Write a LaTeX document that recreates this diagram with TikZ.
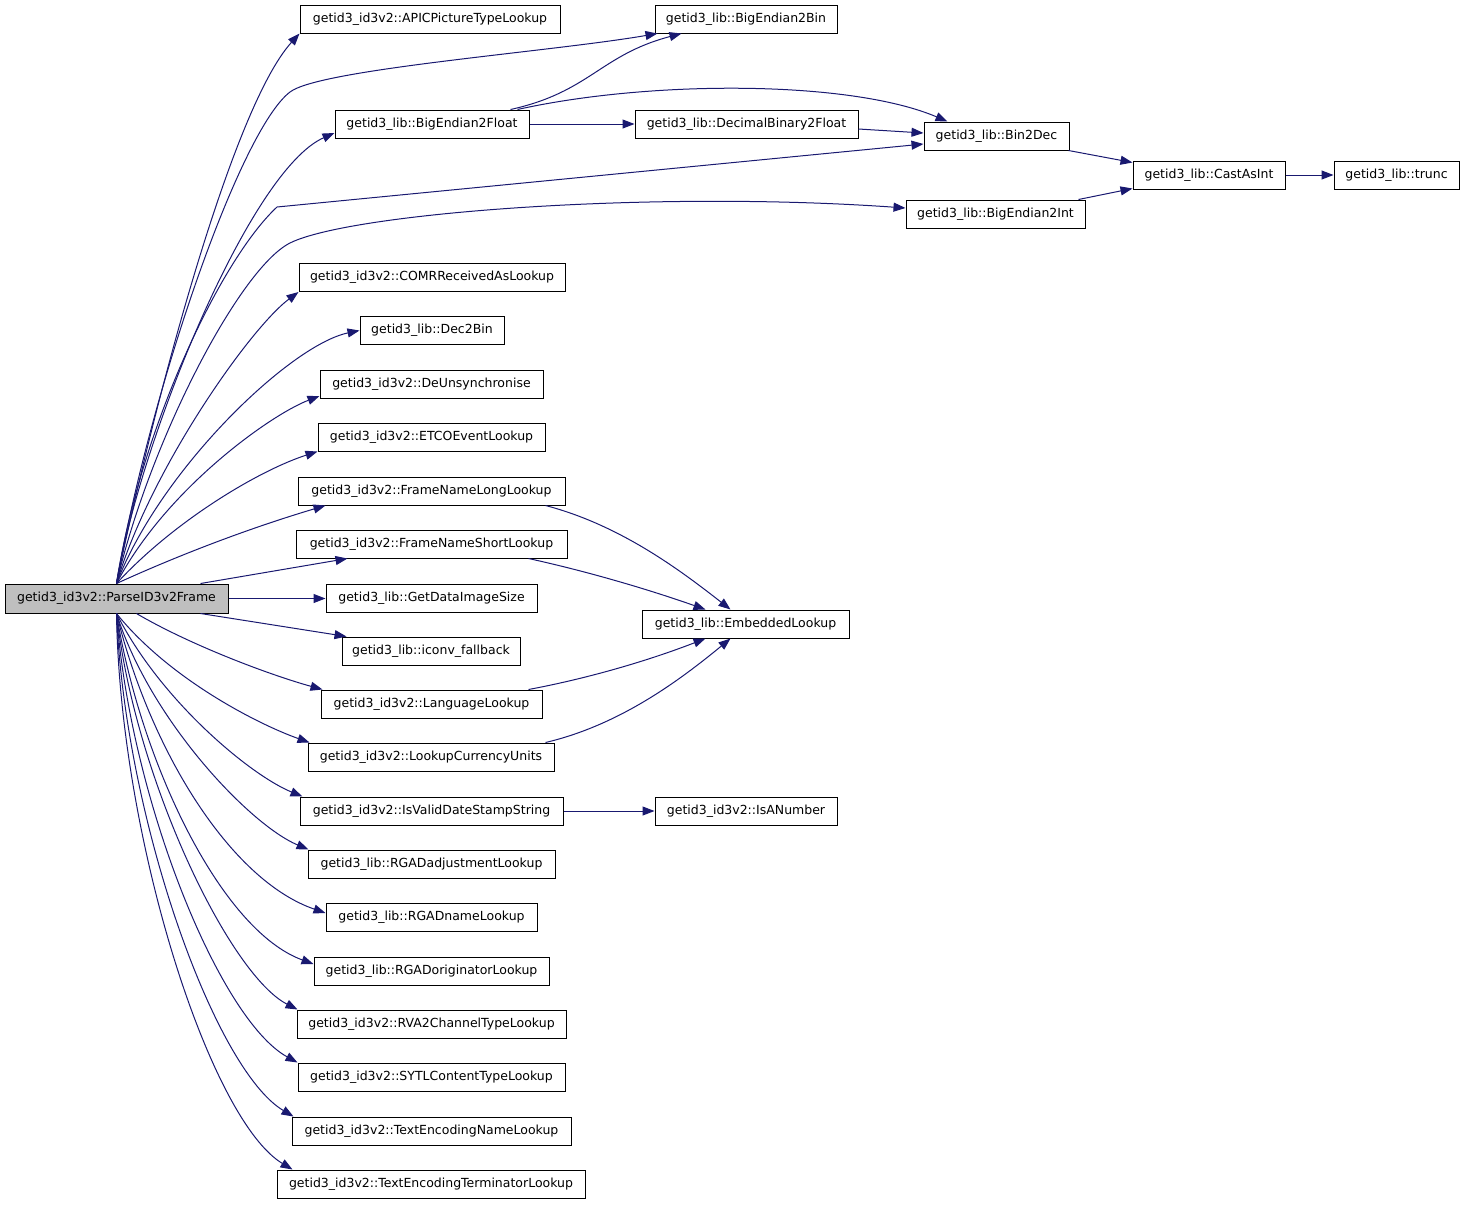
\documentclass[tikz,border=0pt]{standalone}
\usepackage{fontspec}
\setmainfont{DejaVu Sans}
\usetikzlibrary{arrows.meta,calc}
\definecolor{edgecol}{RGB}{25,25,112}
\definecolor{maingray}{RGB}{191,191,191}
\tikzset{
  fn/.style={draw=black, line width=1pt, fill=white, rectangle, inner sep=0pt, minimum height=28pt,
    font=\fontsize{12.5}{14}\selectfont, text=black},
  mainfn/.style={fn, fill=maingray, minimum height=29pt},
  call/.style={draw=edgecol, line width=1pt, -{Triangle[length=12pt,width=9pt]}},
}
\begin{document}
\begin{tikzpicture}[x=1pt,y=-1pt]
\useasboundingbox (0,0) rectangle (1464,1205);
% nodes
\node[mainfn, minimum width=223pt] (main) at (116.5,598.5) {getid3\_id3v2::ParseID3v2Frame};
\node[fn, minimum width=260pt] (apic) at (430,19) {getid3\_id3v2::APICPictureTypeLookup};
\node[fn, minimum width=182pt] (be2bin) at (746,19) {getid3\_lib::BigEndian2Bin};
\node[fn, minimum width=194pt] (be2float) at (432,124) {getid3\_lib::BigEndian2Float};
\node[fn, minimum width=223pt] (decbin) at (746.5,124) {getid3\_lib::DecimalBinary2Float};
\node[fn, minimum width=145pt] (bin2dec) at (996.5,136) {getid3\_lib::Bin2Dec};
\node[fn, minimum width=152pt] (castint) at (1209,175) {getid3\_lib::CastAsInt};
\node[fn, minimum width=125pt] (trunc) at (1396.5,175) {getid3\_lib::trunc};
\node[fn, minimum width=179pt] (be2int) at (995.5,214) {getid3\_lib::BigEndian2Int};
\node[fn, minimum width=266pt] (comr) at (432,277.5) {getid3\_id3v2::COMRReceivedAsLookup};
\node[fn, minimum width=144pt] (dec2bin) at (432,330.5) {getid3\_lib::Dec2Bin};
\node[fn, minimum width=223pt] (deunsync) at (431.5,384) {getid3\_id3v2::DeUnsynchronise};
\node[fn, minimum width=227pt] (etco) at (431.5,437) {getid3\_id3v2::ETCOEventLookup};
\node[fn, minimum width=267pt] (fnlong) at (431.5,491) {getid3\_id3v2::FrameNameLongLookup};
\node[fn, minimum width=271pt] (fnshort) at (431.5,544) {getid3\_id3v2::FrameNameShortLookup};
\node[fn, minimum width=211pt] (gdis) at (431.5,598.5) {getid3\_lib::GetDataImageSize};
\node[fn, minimum width=207pt] (embed) at (745.5,624) {getid3\_lib::EmbeddedLookup};
\node[fn, minimum width=178pt] (iconv) at (431,651) {getid3\_lib::iconv\_fallback};
\node[fn, minimum width=221pt] (lang) at (431.5,704) {getid3\_id3v2::LanguageLookup};
\node[fn, minimum width=246pt] (lcu) at (431,757) {getid3\_id3v2::LookupCurrencyUnits};
\node[fn, minimum width=263pt] (isvalid) at (431.5,811) {getid3\_id3v2::IsValidDateStampString};
\node[fn, minimum width=182pt] (isanum) at (746,811) {getid3\_id3v2::IsANumber};
\node[fn, minimum width=247pt] (rgadadj) at (431.5,864) {getid3\_lib::RGADadjustmentLookup};
\node[fn, minimum width=211pt] (rgadname) at (431.5,917) {getid3\_lib::RGADnameLookup};
\node[fn, minimum width=235pt] (rgadorig) at (431.5,971) {getid3\_lib::RGADoriginatorLookup};
\node[fn, minimum width=269pt] (rva2) at (431.5,1024) {getid3\_id3v2::RVA2ChannelTypeLookup};
\node[fn, minimum width=267pt] (sytl) at (431.5,1077) {getid3\_id3v2::SYTLContentTypeLookup};
\node[fn, minimum width=279pt] (tename) at (431.5,1131) {getid3\_id3v2::TextEncodingNameLookup};
\node[fn, minimum width=308pt] (teterm) at (431,1184) {getid3\_id3v2::TextEncodingTerminatorLookup};
\coordinate (kbin) at (290,92);
\coordinate (kdec) at (277,207);
\coordinate (kint) at (290,243);
% edges upward
\draw[call] (main.north) .. controls (150,420) and (230,110) .. (apic.south west);
\draw[call] (main.north) .. controls (150,390) and (240,130) .. (kbin) .. controls (320,69) and (550,52) .. ($(be2bin.south west)+(3,0)$);
\draw[call] (main.north) .. controls (140,440) and (250,170) .. ($(be2float.west)+(0,9)$);
\draw[call] (main.north) .. controls (140,430) and (220,260) .. (kdec) -- ($(bin2dec.west)+(0,8)$);
\draw[call] (main.north) .. controls (150,440) and (240,268) .. (kint) .. controls (350,213) and (650,190) .. ($(be2int.west)+(0,-6)$);
\draw[call] (main.north) .. controls (150,470) and (250,328) .. (comr.south west);
\draw[call] (main.north) .. controls (160,470) and (290,345) .. (dec2bin.west);
\draw[call] (main.north) .. controls (165,490) and (270,415) .. ($(deunsync.west)+(0,12)$);
\draw[call] (main.north) .. controls (175,520) and (260,470) .. (etco.south west);
\draw[call] (main.north) .. controls (190,550) and (260,525) .. ($(fnlong.south west)+(28,0)$);
\draw[call] ($(main.north east)+(-28,0)$) -- ($(fnshort.south west)+(52,0)$);
\draw[call] (main.east) -- (gdis.west);
% edges downward
\draw[call] ($(main.south east)+(-28,0)$) -- ($(iconv.north west)+(5,0)$);
\draw[call] ($(main.south)+(20,0)$) .. controls (190,645) and (270,675) .. ($(lang.north west)+(2,0)$);
\draw[call] (main.south) .. controls (170,680) and (260,725) .. ($(lcu.north west)+(2,0)$);
\draw[call] (main.south) .. controls (160,700) and (250,775) .. ($(isvalid.north west)+(3,0)$);
\draw[call] (main.south) .. controls (150,720) and (250,825) .. ($(rgadadj.north west)+(1,0)$);
\draw[call] (main.south) .. controls (150,750) and (230,880) .. ($(rgadname.west)+(0,-4)$);
\draw[call] (main.south) .. controls (140,760) and (220,930) .. ($(rgadorig.west)+(0,-7)$);
\draw[call] (main.south) .. controls (135,780) and (230,975) .. ($(rva2.north west)+(1,0)$);
\draw[call] (main.south) .. controls (130,800) and (220,1020) .. (sytl.north west);
\draw[call] (main.south) .. controls (125,820) and (215,1070) .. ($(tename.north west)+(2,0)$);
\draw[call] (main.south) .. controls (120,840) and (210,1120) .. ($(teterm.north west)+(16,0)$);
% secondary edges
\draw[call] ($(be2float.north east)+(-19,0)$) .. controls (590,92) and (600,55) .. ($(be2bin.south west)+(27,0)$);
\draw[call] ($(be2float.north east)+(-12,0)$) .. controls (650,80) and (850,80) .. ($(bin2dec.north west)+(24,0)$);
\draw[call] (be2float.east) -- (decbin.west);
\draw[call] ($(decbin.east)+(0,5)$) -- ($(bin2dec.west)+(0,-3)$);
\draw[call] ($(bin2dec.south east)+(-1,0)$) -- ($(castint.north west)+(0,2)$);
\draw[call] ($(be2int.north east)+(-7,0)$) -- ($(castint.south west)+(0,-1)$);
\draw[call] (castint.east) -- (trunc.west);
\draw[call] ($(fnlong.south east)+(-20,0)$) .. controls (620,525) and (680,570) .. ($(embed.north west)+(89,0)$);
\draw[call] ($(fnshort.south east)+(-39,0)$) .. controls (590,572) and (650,590) .. ($(embed.north west)+(64,0)$);
\draw[call] ($(lang.north east)+(-14,0)$) .. controls (590,678) and (650,660) .. ($(embed.south west)+(64,0)$);
\draw[call] ($(lcu.north east)+(-9,0)$) .. controls (620,725) and (680,680) .. ($(embed.south west)+(89,0)$);
\draw[call] (isvalid.east) -- (isanum.west);
\end{tikzpicture}
\end{document}
